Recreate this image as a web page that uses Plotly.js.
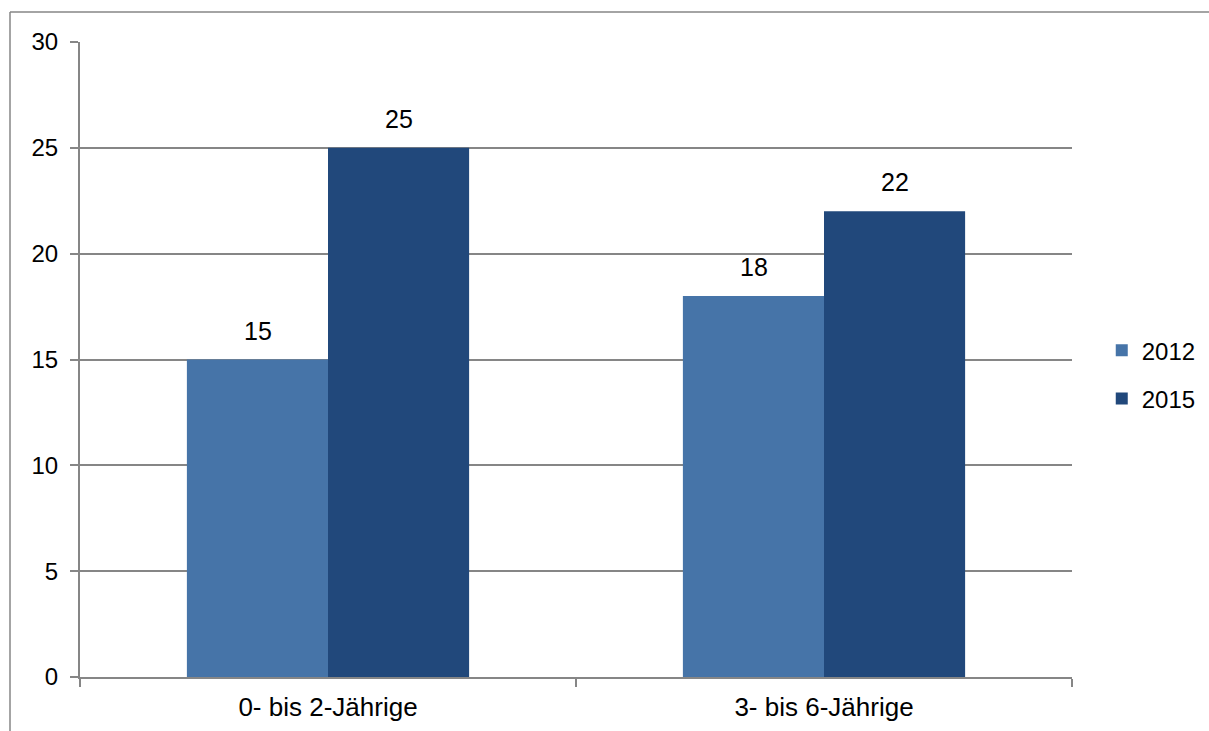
<!DOCTYPE html>
<html>
<head>
<meta charset="utf-8">
<script src="https://cdn.plot.ly/plotly-3.0.1.min.js"></script>
<style>html,body{margin:0;padding:0;background:#fff}#chart{width:1209px;height:731px}</style>
</head>
<body>
<div id="chart"></div>
<script>
const categories = ["0- bis 2-Jährige", "3- bis 6-Jährige"];
const seriesNames = ["2012", "2015"];
const values2012 = [15, 18];
const values2015 = [25, 22];
const colors = ["#4674A8", "#21487B"];
const yTicks = [0, 5, 10, 15, 20, 25, 30];

const fam = "Liberation Sans, Arial, sans-serif";
const font = {family: fam, size: 25, color: "#000"};
const xFont = {family: fam, size: 26, color: "#000"};
const yFont = {family: fam, size: 24, color: "#000"};
const seriesValues = [values2012, values2015];

const traces = seriesValues.map((vals, i) => ({
  type: "bar",
  name: seriesNames[i],
  x: categories,
  y: vals,
  marker: {color: colors[i], line: {width: 0}},
  legendgroup: "g" + i,
  hoverinfo: "none"
}));

const annotations = [];
seriesValues.forEach((vals, i) => {
  vals.forEach((v, j) => {
    annotations.push({
      x: categories[j], y: v, xref: "x", yref: "y",
      text: String(v), showarrow: false,
      xshift: (i === 0 ? -1 : 1) * 70.5,
      yanchor: "bottom", yshift: 13,
      font: font
    });
  });
});

const gray = "#868686";
const layout = {
  width: 1209, height: 731,
  margin: {l: 80, r: 137, t: 42, b: 54, autoexpand: false},
  paper_bgcolor: "#fff", plot_bgcolor: "#fff",
  font: font,
  barmode: "group", bargap: 0.431, bargroupgap: 0,
  showlegend: true,
  legend: {x: 1.030, xanchor: "left", y: 0.476, yanchor: "middle", font: yFont, tracegroupgap: 14, bgcolor: "rgba(0,0,0,0)"},
  xaxis: {
    type: "category", showgrid: false, showline: true, linecolor: gray, linewidth: 2,
    ticks: "outside", tickson: "boundaries", ticklen: 8, tickcolor: gray, tickwidth: 2,
    tickfont: xFont, zeroline: false, ticklabelstandoff: 6, automargin: false
  },
  yaxis: {
    range: [0, 30], tickvals: yTicks, showgrid: true, gridcolor: gray, gridwidth: 2,
    showline: true, linecolor: gray, linewidth: 2,
    ticks: "outside", ticklen: 8, tickcolor: gray, tickwidth: 2,
    tickfont: yFont, zeroline: false, fixedrange: true, ticklabelstandoff: 7, automargin: false
  },
  annotations: annotations,
  shapes: [
    {type: "line", xref: "paper", yref: "paper", x0: -70/992, x1: -70/992, y0: 665/635, y1: -60/635, line: {color: gray, width: 1.5}},
    {type: "line", xref: "paper", yref: "paper", x0: -70/992, x1: 1140/992, y0: 665/635, y1: 665/635, line: {color: gray, width: 1.5}}
  ]
};

Plotly.newPlot("chart", traces, layout, {staticPlot: true, displayModeBar: false});
</script>
</body>
</html>
